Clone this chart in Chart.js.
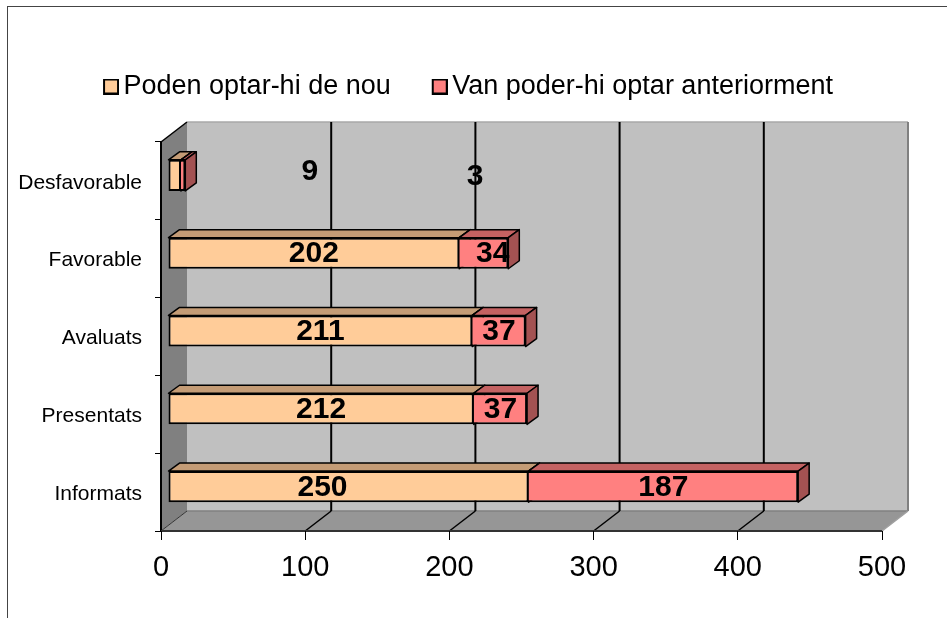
<!DOCTYPE html>
<html>
<head>
<meta charset="utf-8">
<style>
  html, body { margin: 0; padding: 0; background: #fff; }
  canvas { display: block; }
</style>
<script src="https://cdn.jsdelivr.net/npm/chart.js@4.4.2/dist/chart.umd.js"></script>
</head>
<body>
<canvas id="chart" width="947" height="618"></canvas>
<script>
const categories = ['Informats', 'Presentats', 'Avaluats', 'Favorable', 'Desfavorable'];
const seriesNames = ['Poden optar-hi de nou', 'Van poder-hi optar anteriorment'];
const podenOptar = [250, 212, 211, 202, 9];
const vanPoder = [187, 37, 37, 34, 3];
const xTicks = [0, 100, 200, 300, 400, 500];

const FONT = '"Liberation Sans", Arial, sans-serif';
const WALL = { dx: 26, dy: -20 };
const BAR_SHIFT = { dx: 7, dy: -5.5 };
const BAR_DEPTH = { dx: 11, dy: -8 };
const frontColors = ['#ffcc99', '#ff8080'];
const topColors = ['#c49c76', '#c46262'];
const sideColors = ['#a38263', '#a35252'];

// the excel labels were dragged around by hand, these follow the picture
const labelNudge = {
  '0-0': [-26, 0],
  '0-4': [135, -5],
  '1-3': [9, 0],
  '1-4': [292, 0]
};

const poly = (ctx, pts, fill, stroke, width) => {
  ctx.beginPath();
  pts.forEach((p, i) => i ? ctx.lineTo(p[0], p[1]) : ctx.moveTo(p[0], p[1]));
  ctx.closePath();
  if (fill) {
    ctx.fillStyle = fill;
    ctx.fill();
  }
  if (stroke) {
    ctx.strokeStyle = stroke;
    ctx.lineWidth = width;
    ctx.stroke();
  }
};

const line = (ctx, x1, y1, x2, y2, color, width) => {
  ctx.beginPath();
  ctx.moveTo(x1, y1);
  ctx.lineTo(x2, y2);
  ctx.strokeStyle = color;
  ctx.lineWidth = width;
  ctx.stroke();
};

// legend swatch sits off centre so the text ends up close to it
const swatch = color => {
  const c = document.createElement('canvas');
  c.width = 18;
  c.height = 16;
  const ctx = c.getContext('2d');
  ctx.fillStyle = color;
  ctx.strokeStyle = '#000';
  ctx.lineWidth = 2;
  ctx.fillRect(3, 1, 14, 14);
  ctx.strokeRect(3, 1, 14, 14);
  return c;
};

const bar3d = {
  id: 'bar3d',
  afterLayout(chart) {
    chart.legend.left = 62;
    chart.legend.right = 1000;
    chart.legend.top = 25;
  },
  beforeDraw(chart) {
    const { ctx, chartArea: a, scales: { x } } = chart;
    const bx = WALL.dx, by = WALL.dy;
    ctx.save();
    // page frame
    line(ctx, 7, 6.5, 947, 6.5, '#444', 1);
    line(ctx, 7.5, 6, 7.5, 618, '#444', 1);
    // back wall, side wall, floor
    poly(ctx, [[a.left + bx, a.top + by], [a.right + bx, a.top + by], [a.right + bx, a.bottom + by], [a.left + bx, a.bottom + by]], '#c0c0c0');
    poly(ctx, [[a.left, a.top], [a.left + bx, a.top + by], [a.left + bx, a.bottom + by], [a.left, a.bottom]], '#808080');
    poly(ctx, [[a.left, a.bottom], [a.left + bx, a.bottom + by], [a.right + bx, a.bottom + by], [a.right, a.bottom]], '#969696');
    line(ctx, a.left + bx, a.top + by, a.right + bx, a.top + by, '#a8a8a8', 1.5);
    line(ctx, a.right + bx, a.top + by, a.right + bx, a.bottom + by, '#808080', 2);
    line(ctx, a.left + bx, a.bottom + by, a.right + bx, a.bottom + by, '#808080', 1.5);
    line(ctx, a.right, a.bottom, a.right + bx, a.bottom + by, '#a0a0a0', 1.5);
    // grid lines
    xTicks.slice(1, -1).forEach(v => {
      const px = x.getPixelForValue(v);
      line(ctx, px + bx, a.top + by, px + bx, a.bottom + by, '#000', 2);
      line(ctx, px + bx, a.bottom + by, px, a.bottom, '#000', 1.5);
    });
    line(ctx, a.left, a.bottom, a.left + bx, a.bottom + by, '#333', 1);
    // axis edges
    line(ctx, a.left, a.top, a.left + bx, a.top + by, '#000', 1.5);
    line(ctx, a.left, a.top, a.left, a.bottom, '#000', 2);
    line(ctx, a.left, a.bottom, a.right, a.bottom, '#333', 2);
    ctx.restore();
  },
  beforeDatasetsDraw(chart) {
    const { ctx } = chart;
    ctx.save();
    ctx.lineJoin = 'round';
    chart.data.datasets.forEach((ds, i) => {
      chart.getDatasetMeta(i).data.forEach(el => {
        const { x, y, base, height } = el.getProps(['x', 'y', 'base', 'height'], true);
        const l = base + BAR_SHIFT.dx, r = x + BAR_SHIFT.dx;
        const t = y - height / 2 + BAR_SHIFT.dy, b = y + height / 2 + BAR_SHIFT.dy;
        const dx = BAR_DEPTH.dx, dy = BAR_DEPTH.dy;
        poly(ctx, [[l, t], [l + dx, t + dy], [r + dx, t + dy], [r, t]], topColors[i], '#000', 1.5);
        poly(ctx, [[r, t], [r + dx, t + dy], [r + dx, b + dy], [r, b]], sideColors[i], '#000', 1.5);
      });
    });
    ctx.restore();
    // chart.js draws the front faces, just moved to the middle of the depth
    ctx.save();
    ctx.translate(BAR_SHIFT.dx, BAR_SHIFT.dy);
  },
  afterDatasetsDraw(chart) {
    const { ctx } = chart;
    ctx.restore();
    ctx.save();
    ctx.font = 'bold 30px ' + FONT;
    ctx.fillStyle = '#000';
    ctx.textAlign = 'center';
    ctx.textBaseline = 'middle';
    chart.data.datasets.forEach((ds, i) => {
      chart.getDatasetMeta(i).data.forEach((el, j) => {
        const { x, y, base } = el.getProps(['x', 'y', 'base'], true);
        const nudge = labelNudge[i + '-' + j] || [0, 0];
        ctx.fillText(ds.data[j], (x + base) / 2 + BAR_SHIFT.dx + nudge[0], y + BAR_SHIFT.dy + 1 + nudge[1]);
      });
    });
    ctx.restore();
  }
};

new Chart(document.getElementById('chart'), {
  type: 'bar',
  plugins: [bar3d],
  data: {
    labels: categories,
    datasets: [podenOptar, vanPoder].map((values, i) => ({
      label: seriesNames[i],
      data: values,
      backgroundColor: frontColors[i],
      borderColor: '#000',
      // the second bar shares its left edge with the first one
      borderWidth: { top: 2, right: 2, bottom: 2, left: i ? 0 : 2 },
      borderSkipped: false,
      clip: false
    }))
  },
  options: {
    indexAxis: 'y',
    responsive: false,
    animation: false,
    events: [],
    categoryPercentage: 1.0,
    barPercentage: 0.4,
    layout: {
      autoPadding: false,
      padding: { top: 57, right: 65, bottom: 0, left: 0 }
    },
    plugins: {
      tooltip: { enabled: false },
      legend: {
        position: 'top',
        align: 'start',
        labels: {
          color: '#000',
          font: { family: FONT, size: 27 },
          usePointStyle: true,
          boxWidth: 0.01,
          boxHeight: 14,
          padding: 48,
          generateLabels: chart => Chart.defaults.plugins.legend.labels.generateLabels(chart)
            .map((item, i) => ({ ...item, pointStyle: swatch(frontColors[i]) }))
        }
      }
    },
    scales: {
      x: {
        stacked: true,
        min: 0,
        max: 500,
        afterBuildTicks: axis => { axis.ticks = xTicks.map(value => ({ value })); },
        afterFit: axis => { axis.height = 87; },
        border: { display: false },
        grid: { drawOnChartArea: false, color: '#000', tickLength: 9 },
        ticks: {
          color: '#000',
          padding: 11,
          maxRotation: 0,
          font: { family: FONT, size: 29 }
        }
      },
      y: {
        stacked: true,
        reverse: true,
        afterFit: axis => { axis.width = 161; },
        border: { display: false },
        grid: { drawOnChartArea: false, color: '#000', tickLength: 6 },
        ticks: {
          color: '#000',
          padding: 13,
          labelOffset: 2,
          font: { family: FONT, size: 21 }
        }
      }
    }
  }
});
</script>
</body>
</html>
